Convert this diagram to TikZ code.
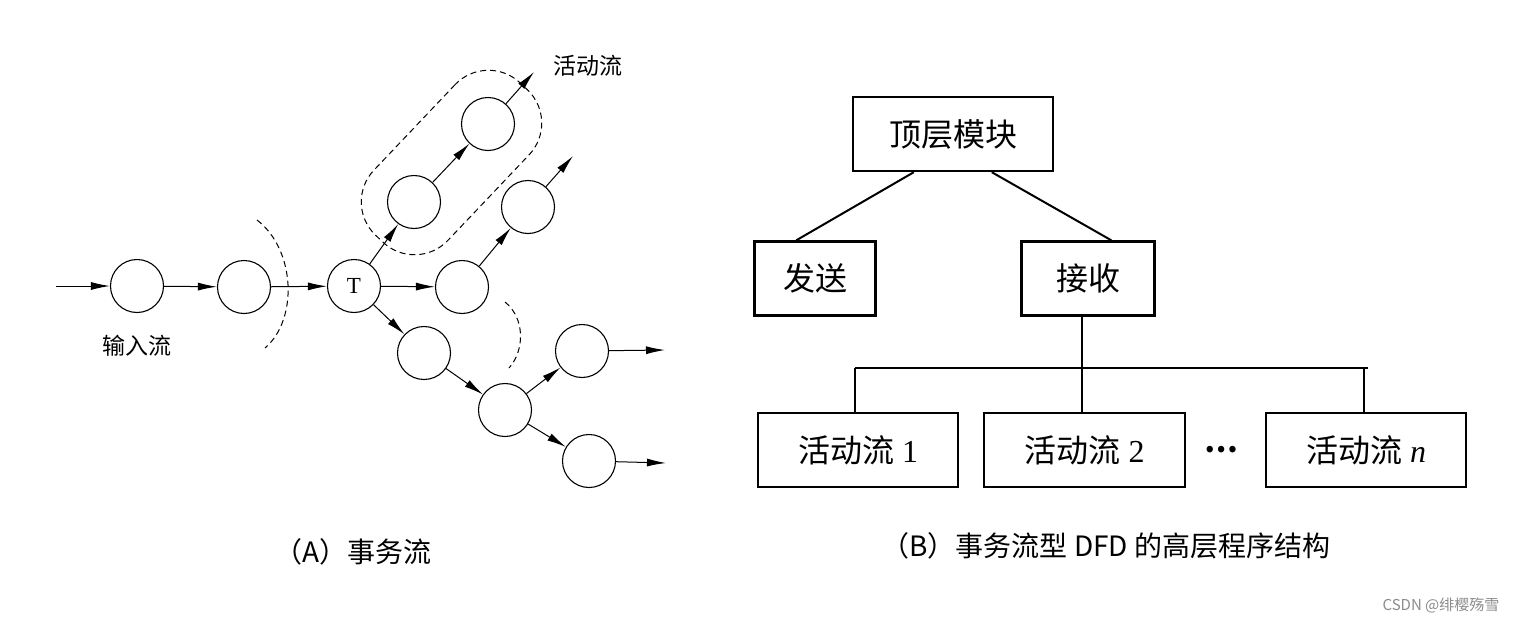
\documentclass[tikz,border=0pt]{standalone}
\usepackage{fontspec}
\setmainfont{Liberation Serif}
\newfontfamily\cjk{Noto Sans CJK SC}
\usetikzlibrary{arrows.meta}
\begin{document}
\begin{tikzpicture}[x=1pt,y=-1pt,
  bub/.style={circle,draw,line width=1.1pt,minimum size=53pt,inner sep=0pt},
  arr/.style={-{Latex[length=19pt,width=8pt]},line width=1pt},
  dsh/.style={dash pattern=on 6pt off 4pt,line width=1pt},
  blk/.style={draw,line width=2.4pt,minimum height=74pt,inner sep=0pt,font=\fontsize{32}{36}\selectfont},
  con/.style={line width=2pt},
  lbl/.style={font=\cjk\fontsize{23}{26}\selectfont,inner sep=0pt},
  captext/.style={font=\cjk\fontsize{28}{32}\selectfont,inner sep=0pt}]
\path[use as bounding box,fill=white] (0,0) rectangle (1524,624);

% ---------- (A) ----------
\node[bub] (c1) at (137,286) {};
\node[bub] (c2) at (244,287) {};
\node[bub,font=\fontsize{23}{26}\selectfont] (T) at (354,286) {T};
\node[bub] (r1) at (462,287) {};
\node[bub] (r2) at (528,207) {};
\node[bub] (u1) at (414,202) {};
\node[bub] (u2) at (488,124) {};
\node[bub] (d1) at (424,353) {};
\node[bub] (d2) at (505,410) {};
\node[bub] (d3) at (582,351) {};
\node[bub] (d4) at (589,461) {};
\coordinate (in) at (56,286);
\coordinate (o1) at (534,72);
\coordinate (o2) at (573,156);
\coordinate (o3) at (665,350);
\coordinate (o4) at (666,463);

\draw[arr] (in) -- (c1);
\draw[arr] (c1) -- (c2);
\draw[arr] (c2) -- (T);
\draw[arr] (T) -- (r1);
\draw[arr] (T) -- (u1);
\draw[arr] (u1) -- (u2);
\draw[arr] (u2) -- (o1);
\draw[arr] (r1) -- (r2);
\draw[arr] (r2) -- (o2);
\draw[arr] (T) -- (d1);
\draw[arr] (d1) -- (d2);
\draw[arr] (d2) -- (d3);
\draw[arr] (d3) -- (o3);
\draw[arr] (d2) -- (d4);
\draw[arr] (d4) -- (o4);

\draw[dsh] (257,220) .. controls (296,250) and (298,320) .. (265,348);
\draw[dsh] (505,302) .. controls (525,318) and (525,350) .. (509,368);
\node[draw,dsh,rounded corners=46pt,minimum width=210pt,minimum height=102pt,rotate=46.5] (grp) at (451.5,162.5) {};

\node[lbl] (lact) at (588,66) {活动流};
\node[lbl] (lin) at (137,346) {输入流};

\node[captext] (capA) at (353,552) {（A）事务流};

% ---------- (B) ----------
\node[blk,minimum width=200pt] (top) at (953,134) {\cjk 顶层模块};
\node[blk,minimum width=121pt] (send) at (815,278.5) {\cjk 发送};
\node[blk,minimum width=133pt] (recv) at (1088,278.5) {\cjk 接收};
\node[blk,minimum width=200pt] (f1) at (858,450) {{\cjk 活动流} 1};
\node[blk,minimum width=201pt] (f2) at (1084.5,450) {{\cjk 活动流} 2};
\node[blk,minimum width=200pt] (fn) at (1366,450) {{\cjk 活动流} \textit{n}};
\node[font=\cjk\bfseries\fontsize{30}{32}\selectfont,inner sep=0pt] (dots) at (1221,450) {⋯};

\draw[con] ([xshift=62pt]top.south west) -- ([xshift=43pt]send.north west);
\draw[con] ([xshift=140pt]top.south west) -- ([xshift=91pt]recv.north west);
\coordinate (b1) at (855,368);
\coordinate (b2) at (1081.5,368);
\coordinate (b3) at (1364,368);
\coordinate (bend) at (1368,368);
\draw[con] ([xshift=-6.5pt]recv.south) -- (b2);
\draw[con] (b1) -- (bend);
\draw[con] (b1) -- (b1 |- f1.north);
\draw[con] (b2) -- (b2 |- f2.north);
\draw[con] (b3) -- (b3 |- fn.north);

\node[captext] (capB) at (1106,546) {（B）事务流型 DFD 的高层程序结构};

\node[font=\cjk\fontsize{15}{17}\selectfont,text=black!45,inner sep=0pt] (wm) at (1441,605) {CSDN @绯樱殇雪};
\end{tikzpicture}
\end{document}
